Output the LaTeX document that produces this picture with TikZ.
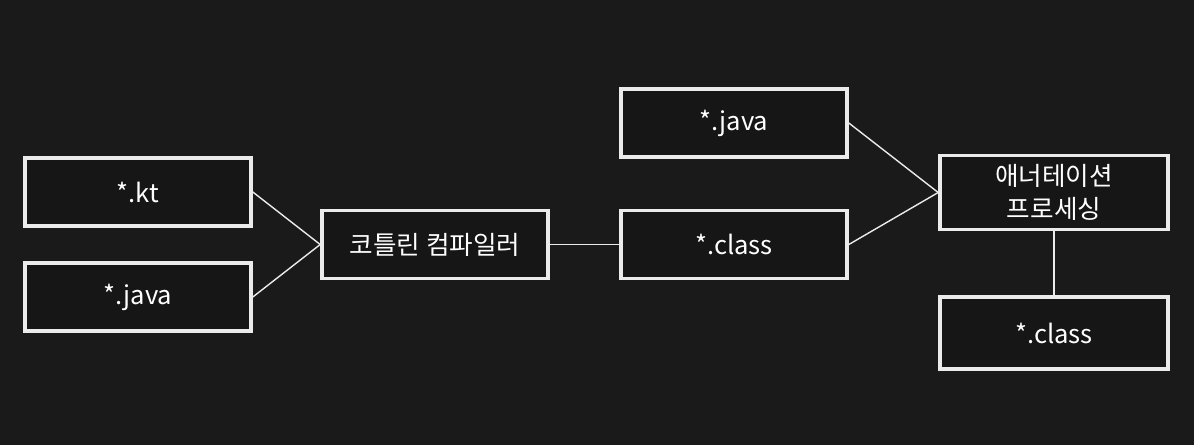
\documentclass[tikz,border=0pt]{standalone}
\usepackage{fontspec}
\setmainfont{Noto Sans CJK KR}
\usepackage{tikz}
\usepackage{xcolor}
\usetikzlibrary{positioning}
\definecolor{bg-dark}{RGB}{27,26,26}
\definecolor{box-dark}{RGB}{22,22,22}
\definecolor{line-light}{RGB}{235,235,235}
\tikzset{
    file-box/.style = {draw=line-light, fill=box-dark, line width=1.8pt, rectangle, minimum width=113pt, minimum height=34pt, text=white, font=\fontsize{12.8}{16.5}\selectfont, align=center, inner sep=0pt},
    link/.style = {draw=line-light, line width=0.7pt},
}

\begin{document}
\begin{tikzpicture}[x=0.5pt, y=-0.5pt]
\fill[bg-dark] (0,0) rectangle (1194,445);
\useasboundingbox (0,0) rectangle (1194,445);

% inputs
\node [file-box] (kt) at (138,192) {*.kt};
\node [file-box] (java-in) at (138,297) {*.java};
\node [file-box] (compiler) at (435,244.5) {코틀린 컴파일러};

% compiler output
\node [file-box] (java-gen) at (734,123) {*.java};
\node [file-box] (class-gen) at (734,244.5) {*.class};
\node [file-box, minimum width=114pt, minimum height=37pt] (apt) at (1054,192.5) {애너테이션\\프로세싱};
\node [file-box, minimum width=114pt, minimum height=36pt, below=32pt of apt] (class-out) {*.class};

\draw [link] (kt.east) -- (compiler.west);
\draw [link] (java-in.east) -- (compiler.west);
\draw [link] (compiler.east) -- (class-gen.west);
\draw [link] (java-gen.east) -- (apt.west);
\draw [link] (class-gen.east) -- (apt.west);
\draw [link] (apt.south) -- (class-out.north);
\end{tikzpicture}
\end{document}
